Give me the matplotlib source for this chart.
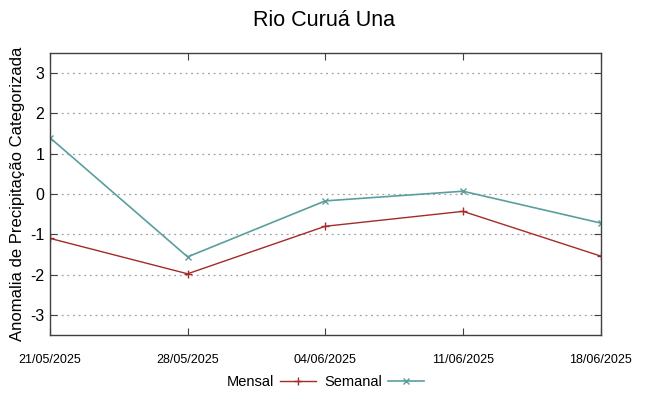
import matplotlib
matplotlib.use('Agg')
import matplotlib.pyplot as plt
import matplotlib.dates as mdates
from datetime import datetime

plt.rcParams['font.family'] = ['Liberation Sans', 'DejaVu Sans']
plt.rcParams['axes.unicode_minus'] = False

#T# data
datas = ['21/05/2025', '28/05/2025', '04/06/2025', '11/06/2025', '18/06/2025']
mensal = [-1.10, -1.98, -0.80, -0.43, -1.54]
semanal = [1.40, -1.56, -0.17, 0.07, -0.72]

x = [datetime.strptime(d, '%d/%m/%Y') for d in datas]

fig1, ax1 = plt.subplots(figsize=(6.48, 3.96), dpi=100)
fig1.subplots_adjust(left=0.077, right=0.927, top=0.866, bottom=0.154)

ax1.plot(x, mensal, '-', marker='+', color='#a52a2a', lw=1.0, ms=6, mew=1.0, label='Mensal')
ax1.plot(x, semanal, '-', marker='x', color='#5a9e9e', lw=1.2, ms=5, mew=1.0, label='Semanal')

ax1.set_xlim(x[0], x[-1])
ax1.set_ylim(-3.5, 3.5)
ax1.set_yticks([-3, -2, -1, 0, 1, 2, 3])
ax1.set_xticks(x)
ax1.xaxis.set_major_formatter(mdates.DateFormatter('%d/%m/%Y'))

ax1.grid(axis='y', linestyle=(0, (1.5, 3)), color='#a0a0a0', lw=0.9)
ax1.tick_params(axis='both', direction='in', top=True, right=True, length=5, color='#404040')
ax1.tick_params(axis='x', labelsize=9, pad=14)
ax1.tick_params(axis='y', labelsize=11.5, pad=4)
for it1 in ['top', 'bottom', 'left', 'right']:
    ax1.spines[it1].set_color('#404040')
    ax1.spines[it1].set_linewidth(1.0)

ax1.set_ylabel('Anomalia de Precipitação Categorizada', fontsize=12, labelpad=4)
fig1.suptitle('Rio Curuá Una', fontsize=15.5, y=0.975)

ax1.legend(loc='center', bbox_to_anchor=(0.5, -0.167), ncol=2, frameon=False,
           markerfirst=False, fontsize=10.5, handlelength=2.5, columnspacing=0.55,
           handletextpad=0.4, borderpad=0, borderaxespad=0)

fig1.savefig('out.png', dpi=100)
